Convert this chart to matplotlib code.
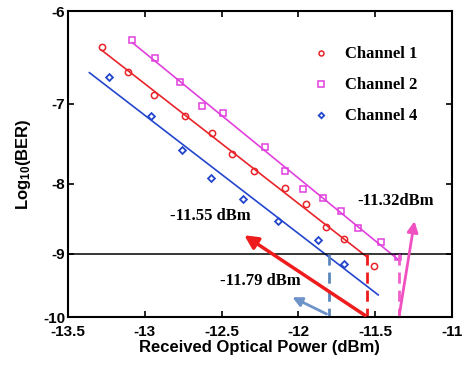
import numpy as np
import matplotlib
matplotlib.use("Agg")
import matplotlib.pyplot as plt

# 数据 (Received Optical Power, dBm / log10(BER))
ch1_x = [-13.28, -13.11, -12.94, -12.74, -12.56, -12.43, -12.29, -12.09, -11.95, -11.82, -11.70, -11.51]
ch1_y = [-6.37, -6.64, -6.90, -7.14, -7.35, -7.62, -7.83, -8.06, -8.28, -8.61, -8.77, -9.18]

ch2_x = [-13.08, -12.93, -12.77, -12.63, -12.49, -12.22, -12.09, -11.97, -11.84, -11.72, -11.61, -11.46, -11.35]
ch2_y = [-6.29, -6.49, -6.75, -7.03, -7.11, -7.52, -7.84, -8.08, -8.20, -8.38, -8.62, -8.82, -9.05]

ch4_x = [-13.23, -12.96, -12.76, -12.57, -12.36, -12.13, -11.87, -11.70]
ch4_y = [-6.70, -7.14, -7.56, -7.92, -8.21, -8.52, -8.79, -9.15]

# 拟合线范围
fit_range = {"ch1": (-13.28, -11.55), "ch2": (-13.08, -11.34), "ch4": (-13.36, -11.48)}

# FEC 门限与灵敏度
ber_limit = -9
sens_x = [-11.80, -11.55, -11.345]
sens_labels = ["-11.79 dBm", "-11.55 dBm", "-11.32dBm"]

plt.rcParams["mathtext.fontset"] = "custom"
plt.rcParams["mathtext.bf"] = "Liberation Sans:bold"
plt.rcParams["mathtext.rm"] = "Liberation Sans:bold"
plt.rcParams["mathtext.default"] = "bf"


def fwd(y):
    y = np.asarray(y, dtype=float)
    return -np.log10(np.clip(-y, 1e-9, None))


def inv(f):
    return -10 ** (-np.asarray(f, dtype=float))


def fit_line(x, y, rng):
    p = np.polyfit(x, fwd(y), 1)
    xx = np.linspace(rng[0], rng[1], 50)
    return xx, inv(np.polyval(p, xx))


fig = plt.figure(figsize=(4.65, 3.65), dpi=100)
ax = fig.add_axes([0.146, 0.1315, 0.826, 0.837])
ax.set_yscale("function", functions=(fwd, inv))

red = "#e8242a"
mag = "#e040dc"
blue = "#2346cc"

# 各通道
ax.plot(ch1_x, ch1_y, "o", mfc="none", mec=red, ms=4.5, mew=1.1, label="Channel 1")
ax.plot(ch2_x, ch2_y, "s", mfc="none", mec=mag, ms=5, mew=1.1, label="Channel 2")
ax.plot(ch4_x, ch4_y, "D", mfc="none", mec=blue, ms=3.5, mew=1.3, label="Channel 4")

for x, y, key, c in [(ch1_x, ch1_y, "ch1", red), (ch2_x, ch2_y, "ch2", mag), (ch4_x, ch4_y, "ch4", blue)]:
    xx, yy = fit_line(x, y, fit_range[key])
    ax.plot(xx, yy, "-", color=c, lw=1.2)

ax.axhline(ber_limit, color="black", lw=1.1)

# 灵敏度虚线
dash_colors = ["#5b86bb", "#ee1c1c", "#f060cc"]
for sx, c in zip(sens_x, dash_colors):
    ax.plot([sx, sx], [ber_limit, -10], "--", color=c, lw=2, dashes=(4, 2.5))

# 箭头和标注
serif = dict(family="Liberation Serif", weight="bold", fontsize=12)
ax.annotate("", xy=(-12.055, -9.655), xytext=(sens_x[0], -9.97),
            arrowprops=dict(arrowstyle="-|>", color="#6e93c8", lw=2, mutation_scale=14),
            annotation_clip=False)
ax.annotate("", xy=(-12.367, -8.70), xytext=(sens_x[1], -10),
            arrowprops=dict(arrowstyle="-|>", color="#ee1c1c", lw=2.5, mutation_scale=20),
            annotation_clip=False)
ax.annotate("", xy=(-11.241, -8.48), xytext=(sens_x[2], -10),
            arrowprops=dict(arrowstyle="-|>", color="#f050c0", lw=2, mutation_scale=16),
            annotation_clip=False)

ax.text(-12.25, -9.42, sens_labels[0], ha="center", va="center", **serif)
ax.text(-12.575, -8.45, sens_labels[1], ha="center", va="center", **serif)
ax.text(-11.365, -8.235, sens_labels[2], ha="center", va="center", **serif)

ax.set_xlim(-13.5, -11)
ax.set_ylim(-10, -6)
ax.set_xticks([-13.5, -13, -12.5, -12, -11.5, -11])
ax.set_xticklabels(["-13.5", "-13", "-12.5", "-12", "-11.5", "-11"])
ax.set_yticks([-10, -9, -8, -7, -6])
ax.set_yticklabels(["-10", "-9", "-8", "-7", "-6"])
ax.minorticks_off()
ax.tick_params(direction="in", top=True, right=True, length=4, width=1.2, pad=2)
ax.tick_params(axis="x", pad=5.5)
for lab in ax.get_xticklabels() + ax.get_yticklabels():
    lab.set_family("Liberation Sans")
    lab.set_fontweight("bold")
    lab.set_fontsize(11)
for sp in ax.spines.values():
    sp.set_linewidth(1.5)

ax.set_xlabel("Received Optical Power (dBm)", family="Liberation Sans", weight="bold", fontsize=12, labelpad=1)
ax.set_ylabel("Log$_{10}$(BER)", family="Liberation Sans", weight="bold", fontsize=12, labelpad=7)

leg = ax.legend(loc="upper left", bbox_to_anchor=(0.595, 0.935), frameon=False,
                prop=dict(family="Liberation Serif", weight="bold", size=12),
                handlelength=1.2, handletextpad=0.8, labelspacing=0.9, markerscale=0.8)

fig.savefig("out.png", dpi=100)
